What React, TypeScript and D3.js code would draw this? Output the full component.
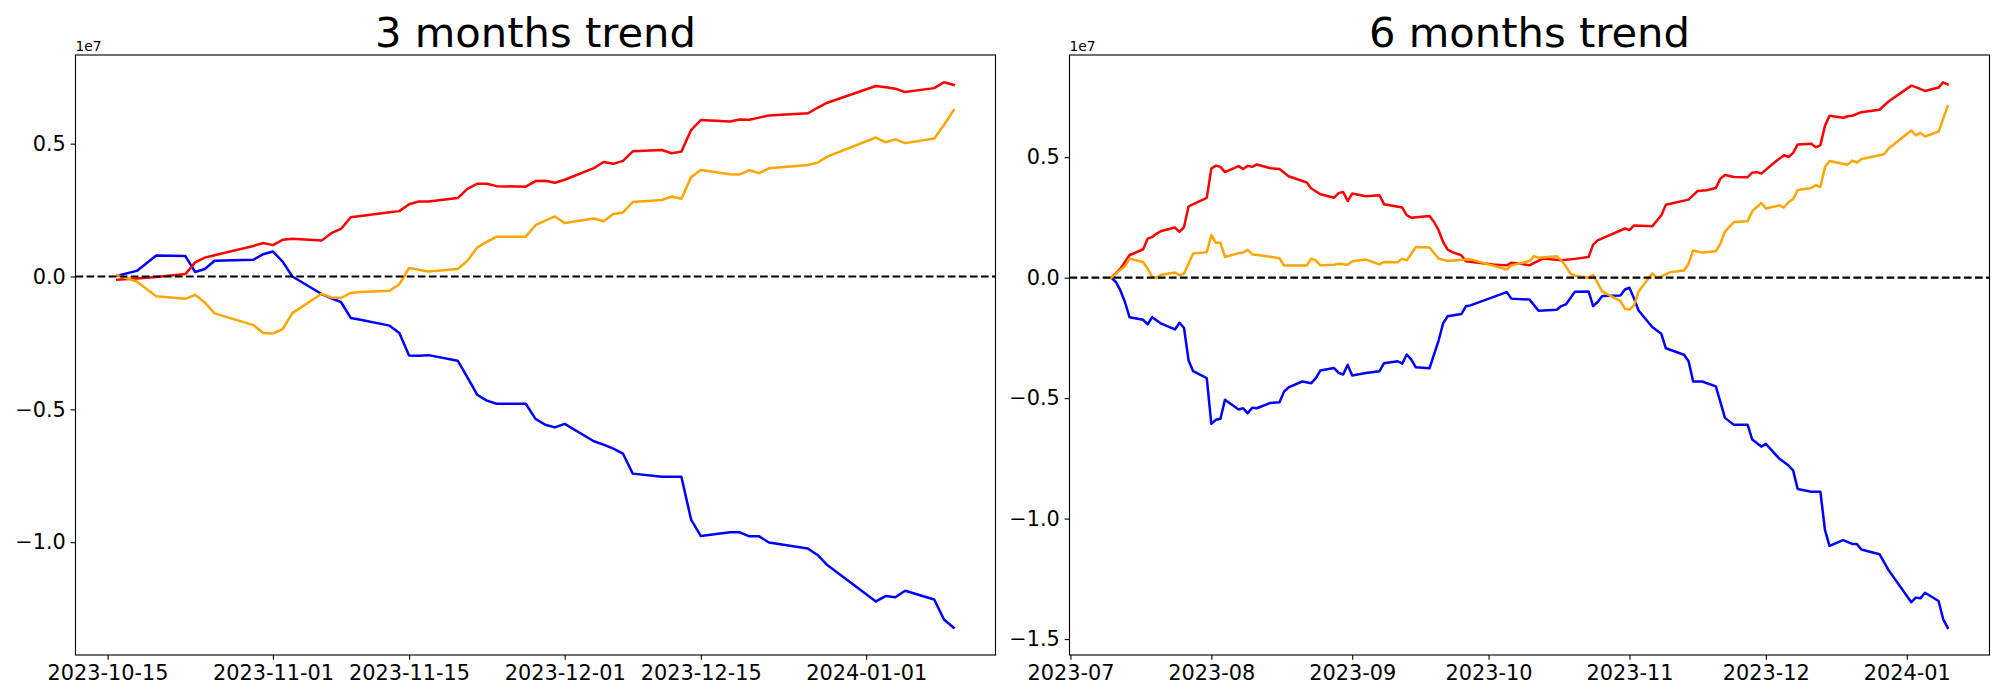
import { useEffect, useRef } from 'react';
import * as d3 from 'd3';

type Pt = [string, number];

// values are in units of 1e7 (offset text drawn above each axis)
const threeRed: Pt[] = [
  ['2023-10-16', -0.012], ['2023-10-18', -0.008], ['2023-10-20', -0.002], ['2023-10-23', 0.009],
  ['2023-10-24', 0.053], ['2023-10-25', 0.071], ['2023-10-26', 0.080], ['2023-10-30', 0.115],
  ['2023-10-31', 0.126], ['2023-11-01', 0.118], ['2023-11-02', 0.138], ['2023-11-03', 0.142],
  ['2023-11-06', 0.135], ['2023-11-07', 0.163], ['2023-11-08', 0.179], ['2023-11-09', 0.223],
  ['2023-11-10', 0.228], ['2023-11-13', 0.242], ['2023-11-14', 0.246], ['2023-11-15', 0.272],
  ['2023-11-16', 0.282], ['2023-11-17', 0.282], ['2023-11-20', 0.295], ['2023-11-21', 0.330],
  ['2023-11-22', 0.349], ['2023-11-23', 0.349], ['2023-11-24', 0.340], ['2023-11-27', 0.338],
  ['2023-11-28', 0.359], ['2023-11-29', 0.360], ['2023-11-30', 0.353], ['2023-12-01', 0.364],
  ['2023-12-04', 0.408], ['2023-12-05', 0.431], ['2023-12-06', 0.424], ['2023-12-07', 0.435],
  ['2023-12-08', 0.471], ['2023-12-11', 0.476], ['2023-12-12', 0.464], ['2023-12-13', 0.470],
  ['2023-12-14', 0.551], ['2023-12-15', 0.589], ['2023-12-18', 0.583], ['2023-12-19', 0.591],
  ['2023-12-20', 0.590], ['2023-12-21', 0.598], ['2023-12-22', 0.606], ['2023-12-26', 0.614],
  ['2023-12-27', 0.635], ['2023-12-28', 0.654], ['2024-01-02', 0.717], ['2024-01-03', 0.712],
  ['2024-01-04', 0.707], ['2024-01-05', 0.694], ['2024-01-08', 0.709], ['2024-01-09', 0.731],
  ['2024-01-10', 0.721],
];

const threeBlue: Pt[] = [
  ['2023-10-16', 0.003], ['2023-10-18', 0.021], ['2023-10-20', 0.079], ['2023-10-23', 0.077],
  ['2023-10-24', 0.017], ['2023-10-25', 0.028], ['2023-10-26', 0.059], ['2023-10-30', 0.063],
  ['2023-10-31', 0.084], ['2023-11-01', 0.094], ['2023-11-02', 0.056], ['2023-11-03', 0.000],
  ['2023-11-06', -0.066], ['2023-11-07', -0.082], ['2023-11-08', -0.096], ['2023-11-09', -0.156],
  ['2023-11-10', -0.163], ['2023-11-13', -0.185], ['2023-11-14', -0.213], ['2023-11-15', -0.297],
  ['2023-11-16', -0.298], ['2023-11-17', -0.296], ['2023-11-20', -0.317], ['2023-11-21', -0.380],
  ['2023-11-22', -0.445], ['2023-11-23', -0.467], ['2023-11-24', -0.479], ['2023-11-27', -0.479],
  ['2023-11-28', -0.536], ['2023-11-29', -0.558], ['2023-11-30', -0.568], ['2023-12-01', -0.555],
  ['2023-12-04', -0.620], ['2023-12-05', -0.633], ['2023-12-06', -0.648], ['2023-12-07', -0.667],
  ['2023-12-08', -0.742], ['2023-12-11', -0.754], ['2023-12-12', -0.754], ['2023-12-13', -0.754],
  ['2023-12-14', -0.915], ['2023-12-15', -0.977], ['2023-12-18', -0.963], ['2023-12-19', -0.963],
  ['2023-12-20', -0.978], ['2023-12-21', -0.978], ['2023-12-22', -1.001], ['2023-12-26', -1.024],
  ['2023-12-27', -1.048], ['2023-12-28', -1.086], ['2024-01-02', -1.223], ['2024-01-03', -1.203],
  ['2024-01-04', -1.207], ['2024-01-05', -1.183], ['2024-01-08', -1.216], ['2024-01-09', -1.291],
  ['2024-01-10', -1.322],
];

const threeOrange: Pt[] = [
  ['2023-10-16', 0.005], ['2023-10-18', -0.019], ['2023-10-20', -0.074], ['2023-10-23', -0.084],
  ['2023-10-24', -0.069], ['2023-10-25', -0.098], ['2023-10-26', -0.139], ['2023-10-30', -0.183],
  ['2023-10-31', -0.213], ['2023-11-01', -0.215], ['2023-11-02', -0.198], ['2023-11-03', -0.138],
  ['2023-11-06', -0.065], ['2023-11-07', -0.079], ['2023-11-08', -0.081], ['2023-11-09', -0.062],
  ['2023-11-10', -0.058], ['2023-11-13', -0.054], ['2023-11-14', -0.029], ['2023-11-15', 0.032],
  ['2023-11-16', 0.025], ['2023-11-17', 0.019], ['2023-11-20', 0.028], ['2023-11-21', 0.059],
  ['2023-11-22', 0.109], ['2023-11-23', 0.130], ['2023-11-24', 0.150], ['2023-11-27', 0.150],
  ['2023-11-28', 0.193], ['2023-11-29', 0.210], ['2023-11-30', 0.226], ['2023-12-01', 0.201],
  ['2023-12-04', 0.218], ['2023-12-05', 0.208], ['2023-12-06', 0.235], ['2023-12-07', 0.241],
  ['2023-12-08', 0.280], ['2023-12-11', 0.288], ['2023-12-12', 0.301], ['2023-12-13', 0.292],
  ['2023-12-14', 0.374], ['2023-12-15', 0.401], ['2023-12-18', 0.385], ['2023-12-19', 0.384],
  ['2023-12-20', 0.400], ['2023-12-21', 0.389], ['2023-12-22', 0.407], ['2023-12-26', 0.420],
  ['2023-12-27', 0.428], ['2023-12-28', 0.451], ['2024-01-02', 0.523], ['2024-01-03', 0.505],
  ['2024-01-04', 0.516], ['2024-01-05', 0.502], ['2024-01-08', 0.519], ['2024-01-09', 0.570],
  ['2024-01-10', 0.626],
];

const sixRed: Pt[] = [
  ['2023-07-10', 0.000], ['2023-07-12', 0.037], ['2023-07-14', 0.093], ['2023-07-17', 0.118],
  ['2023-07-18', 0.162], ['2023-07-19', 0.169], ['2023-07-20', 0.183], ['2023-07-21', 0.194],
  ['2023-07-24', 0.208], ['2023-07-25', 0.190], ['2023-07-26', 0.210], ['2023-07-27', 0.296],
  ['2023-07-31', 0.331], ['2023-08-01', 0.453], ['2023-08-02', 0.465], ['2023-08-03', 0.460],
  ['2023-08-04', 0.438], ['2023-08-07', 0.463], ['2023-08-08', 0.451], ['2023-08-09', 0.464],
  ['2023-08-10', 0.460], ['2023-08-11', 0.470], ['2023-08-14', 0.454], ['2023-08-16', 0.451],
  ['2023-08-18', 0.421], ['2023-08-22', 0.395], ['2023-08-23', 0.370], ['2023-08-25', 0.346],
  ['2023-08-28', 0.332], ['2023-08-29', 0.351], ['2023-08-30', 0.356], ['2023-08-31', 0.318],
  ['2023-09-01', 0.349], ['2023-09-04', 0.338], ['2023-09-07', 0.342], ['2023-09-08', 0.305],
  ['2023-09-12', 0.291], ['2023-09-13', 0.259], ['2023-09-14', 0.249], ['2023-09-18', 0.256],
  ['2023-09-19', 0.231], ['2023-09-20', 0.197], ['2023-09-21', 0.148], ['2023-09-22', 0.116],
  ['2023-09-23', 0.106], ['2023-09-25', 0.093], ['2023-09-26', 0.068], ['2023-10-02', 0.055],
  ['2023-10-05', 0.051], ['2023-10-06', 0.062], ['2023-10-08', 0.058], ['2023-10-10', 0.051],
  ['2023-10-11', 0.061], ['2023-10-13', 0.079], ['2023-10-17', 0.072], ['2023-10-20', 0.078],
  ['2023-10-23', 0.086], ['2023-10-24', 0.137], ['2023-10-25', 0.155], ['2023-10-31', 0.204],
  ['2023-11-01', 0.197], ['2023-11-02', 0.217], ['2023-11-06', 0.213], ['2023-11-08', 0.259],
  ['2023-11-09', 0.303], ['2023-11-14', 0.324], ['2023-11-16', 0.360], ['2023-11-18', 0.363],
  ['2023-11-20', 0.372], ['2023-11-21', 0.411], ['2023-11-22', 0.426], ['2023-11-24', 0.418],
  ['2023-11-27', 0.417], ['2023-11-28', 0.436], ['2023-11-29', 0.438], ['2023-11-30', 0.432],
  ['2023-12-03', 0.480], ['2023-12-05', 0.508], ['2023-12-06', 0.501], ['2023-12-07', 0.518],
  ['2023-12-08', 0.553], ['2023-12-11', 0.556], ['2023-12-12', 0.541], ['2023-12-13', 0.550],
  ['2023-12-14', 0.630], ['2023-12-15', 0.672], ['2023-12-18', 0.664], ['2023-12-19', 0.670],
  ['2023-12-20', 0.672], ['2023-12-22', 0.687], ['2023-12-26', 0.697], ['2023-12-28', 0.731],
  ['2024-01-02', 0.797], ['2024-01-03', 0.791], ['2024-01-05', 0.775], ['2024-01-08', 0.789],
  ['2024-01-09', 0.811], ['2024-01-10', 0.802],
];

const sixBlue: Pt[] = [
  ['2023-07-10', 0.000], ['2023-07-11', -0.018], ['2023-07-12', -0.053], ['2023-07-13', -0.101],
  ['2023-07-14', -0.164], ['2023-07-17', -0.175], ['2023-07-18', -0.194], ['2023-07-19', -0.164],
  ['2023-07-21', -0.191], ['2023-07-24', -0.215], ['2023-07-25', -0.187], ['2023-07-26', -0.209],
  ['2023-07-27', -0.344], ['2023-07-28', -0.388], ['2023-07-31', -0.417], ['2023-08-01', -0.607],
  ['2023-08-02', -0.590], ['2023-08-03', -0.586], ['2023-08-04', -0.507], ['2023-08-07', -0.547],
  ['2023-08-08', -0.542], ['2023-08-09', -0.563], ['2023-08-10', -0.540], ['2023-08-11', -0.542],
  ['2023-08-14', -0.520], ['2023-08-16', -0.517], ['2023-08-17', -0.473], ['2023-08-18', -0.455],
  ['2023-08-21', -0.431], ['2023-08-23', -0.438], ['2023-08-24', -0.417], ['2023-08-25', -0.385],
  ['2023-08-28', -0.375], ['2023-08-29', -0.395], ['2023-08-30', -0.402], ['2023-08-31', -0.362],
  ['2023-09-01', -0.406], ['2023-09-04', -0.396], ['2023-09-07', -0.388], ['2023-09-08', -0.355],
  ['2023-09-11', -0.347], ['2023-09-12', -0.357], ['2023-09-13', -0.319], ['2023-09-14', -0.340],
  ['2023-09-15', -0.372], ['2023-09-18', -0.376], ['2023-09-20', -0.261], ['2023-09-21', -0.189],
  ['2023-09-22', -0.160], ['2023-09-25', -0.151], ['2023-09-26', -0.119], ['2023-09-27', -0.115],
  ['2023-10-05', -0.060], ['2023-10-06', -0.087], ['2023-10-10', -0.091], ['2023-10-12', -0.137],
  ['2023-10-16', -0.133], ['2023-10-17', -0.118], ['2023-10-18', -0.111], ['2023-10-20', -0.058],
  ['2023-10-23', -0.057], ['2023-10-24', -0.118], ['2023-10-25', -0.101], ['2023-10-26', -0.076],
  ['2023-10-30', -0.074], ['2023-10-31', -0.049], ['2023-11-01', -0.042], ['2023-11-02', -0.087],
  ['2023-11-03', -0.136], ['2023-11-06', -0.205], ['2023-11-08', -0.233], ['2023-11-09', -0.293],
  ['2023-11-13', -0.320], ['2023-11-14', -0.347], ['2023-11-15', -0.431], ['2023-11-17', -0.431],
  ['2023-11-20', -0.451], ['2023-11-22', -0.582], ['2023-11-24', -0.611], ['2023-11-27', -0.611],
  ['2023-11-28', -0.672], ['2023-11-30', -0.701], ['2023-12-01', -0.690], ['2023-12-04', -0.752],
  ['2023-12-06', -0.780], ['2023-12-07', -0.800], ['2023-12-08', -0.877], ['2023-12-11', -0.889],
  ['2023-12-13', -0.889], ['2023-12-14', -1.047], ['2023-12-15', -1.113], ['2023-12-18', -1.089],
  ['2023-12-20', -1.105], ['2023-12-21', -1.105], ['2023-12-22', -1.128], ['2023-12-26', -1.148],
  ['2023-12-28', -1.214], ['2024-01-02', -1.347], ['2024-01-03', -1.328], ['2024-01-04', -1.331],
  ['2024-01-05', -1.308], ['2024-01-08', -1.342], ['2024-01-09', -1.417], ['2024-01-10', -1.453],
];

const sixOrange: Pt[] = [
  ['2023-07-10', 0.000], ['2023-07-11', 0.017], ['2023-07-13', 0.047], ['2023-07-14', 0.079],
  ['2023-07-17', 0.065], ['2023-07-18', 0.037], ['2023-07-19', 0.003], ['2023-07-20', 0.000],
  ['2023-07-21', 0.012], ['2023-07-24', 0.021], ['2023-07-25', 0.010], ['2023-07-26', 0.017],
  ['2023-07-28', 0.100], ['2023-07-31', 0.106], ['2023-08-01', 0.176], ['2023-08-02', 0.145],
  ['2023-08-03', 0.145], ['2023-08-04', 0.086], ['2023-08-07', 0.102], ['2023-08-08', 0.104],
  ['2023-08-09', 0.116], ['2023-08-10', 0.097], ['2023-08-16', 0.081], ['2023-08-17', 0.050],
  ['2023-08-22', 0.050], ['2023-08-23', 0.079], ['2023-08-24', 0.071], ['2023-08-25', 0.051],
  ['2023-08-28', 0.054], ['2023-08-29', 0.058], ['2023-08-31', 0.054], ['2023-09-01', 0.068],
  ['2023-09-04', 0.075], ['2023-09-07', 0.055], ['2023-09-08', 0.065], ['2023-09-11', 0.064],
  ['2023-09-12', 0.079], ['2023-09-13', 0.072], ['2023-09-15', 0.127], ['2023-09-18', 0.125],
  ['2023-09-20', 0.079], ['2023-09-22', 0.069], ['2023-09-26', 0.075], ['2023-09-27', 0.076],
  ['2023-10-05', 0.034], ['2023-10-06', 0.051], ['2023-10-10', 0.069], ['2023-10-11', 0.089],
  ['2023-10-12', 0.083], ['2023-10-16', 0.089], ['2023-10-17', 0.072], ['2023-10-18', 0.047],
  ['2023-10-19', 0.017], ['2023-10-20', 0.008], ['2023-10-23', 0.000], ['2023-10-24', 0.012],
  ['2023-10-26', -0.057], ['2023-10-30', -0.097], ['2023-10-31', -0.129], ['2023-11-01', -0.132],
  ['2023-11-02', -0.115], ['2023-11-03', -0.057], ['2023-11-06', 0.017], ['2023-11-07', 0.000],
  ['2023-11-08', 0.005], ['2023-11-10', 0.023], ['2023-11-13', 0.030], ['2023-11-14', 0.058],
  ['2023-11-15', 0.113], ['2023-11-17', 0.104], ['2023-11-20', 0.110], ['2023-11-21', 0.141],
  ['2023-11-22', 0.192], ['2023-11-24', 0.231], ['2023-11-27', 0.234], ['2023-11-28', 0.276],
  ['2023-11-30', 0.310], ['2023-12-01', 0.287], ['2023-12-04', 0.300], ['2023-12-05', 0.291],
  ['2023-12-06', 0.314], ['2023-12-07', 0.326], ['2023-12-08', 0.364], ['2023-12-11', 0.372],
  ['2023-12-12', 0.384], ['2023-12-13', 0.376], ['2023-12-14', 0.458], ['2023-12-15', 0.484],
  ['2023-12-19', 0.469], ['2023-12-20', 0.486], ['2023-12-21', 0.478], ['2023-12-22', 0.492],
  ['2023-12-27', 0.512], ['2023-12-28', 0.536], ['2024-01-02', 0.611], ['2024-01-03', 0.591],
  ['2024-01-04', 0.601], ['2024-01-05', 0.586], ['2024-01-08', 0.606], ['2024-01-10', 0.712],
];

const threeTicks = ['2023-10-15', '2023-11-01', '2023-11-15', '2023-12-01', '2023-12-15', '2024-01-01'];
const sixTicks = ['2023-07', '2023-08', '2023-09', '2023-10', '2023-11', '2023-12', '2024-01'];

const parseDay = d3.timeParse('%Y-%m-%d');
const parseMonth = d3.timeParse('%Y-%m');

const FONT = '"DejaVu Sans", sans-serif';
const PT = 100 / 72; // matplotlib points -> px at dpi 100

interface Series { data: Pt[]; color: string }

interface PanelProps {
  title: string;
  series: Series[];
  ticks: string[];
  parseTick: (s: string) => Date | null;
  left: number;
  top: number;
  width: number;
  height: number;
}

function TrendPanel({ title, series, ticks, parseTick, left, top, width, height }: PanelProps) {
  const gRef = useRef<SVGGElement>(null);

  useEffect(() => {
    if (!gRef.current) return;
    const g = d3.select(gRef.current);
    g.selectAll('*').remove();

    const all = series.flatMap(s => s.data.map(([d, v]) => ({ t: parseDay(d)!, v })));
    const [t0, t1] = d3.extent(all, p => +p.t) as [number, number];
    const tPad = (t1 - t0) * 0.05;
    const x = d3.scaleTime()
      .domain([new Date(t0 - tPad), new Date(t1 + tPad)])
      .range([0, width]);

    const [v0, v1] = d3.extent(all, p => p.v) as [number, number];
    const vPad = (v1 - v0) * 0.05;
    const y = d3.scaleLinear().domain([v0 - vPad, v1 + vPad]).range([height, 0]);

    const tickLen = 3.5 * PT;
    const tickPad = 3.5 * PT;

    // x axis
    const xAxis = d3.axisBottom(x)
      .tickValues(ticks.map(t => parseTick(t)!))
      .tickFormat((_d, i) => ticks[i])
      .tickSize(tickLen)
      .tickPadding(tickPad)
      .tickSizeOuter(0);
    const xg = g.append('g').attr('transform', `translate(0,${height})`).call(xAxis);
    xg.select('.domain').remove();
    xg.selectAll('line').attr('stroke', '#000').attr('stroke-width', 0.8 * PT);
    xg.selectAll('text').attr('font-family', FONT).attr('font-size', 15 * PT).attr('fill', '#000');

    // y axis
    const yAxis = d3.axisLeft(y)
      .ticks(5)
      .tickFormat(d3.format('.1f'))
      .tickSize(tickLen)
      .tickPadding(tickPad)
      .tickSizeOuter(0);
    const yg = g.append('g').call(yAxis);
    yg.select('.domain').remove();
    yg.selectAll('line').attr('stroke', '#000').attr('stroke-width', 0.8 * PT);
    yg.selectAll('text').attr('font-family', FONT).attr('font-size', 15 * PT).attr('fill', '#000');

    // lines
    const line = d3.line<Pt>()
      .x(d => x(parseDay(d[0])!))
      .y(d => y(d[1]));

    series.forEach(s => {
      g.append('path')
        .datum(s.data)
        .attr('d', line)
        .attr('fill', 'none')
        .attr('stroke', s.color)
        .attr('stroke-width', 1.8 * PT)
        .attr('stroke-linejoin', 'round')
        .attr('stroke-linecap', 'square');
    });

    // zero line
    g.append('line')
      .attr('x1', 0)
      .attr('x2', width)
      .attr('y1', y(0))
      .attr('y2', y(0))
      .attr('stroke', '#000')
      .attr('stroke-width', 1.5 * PT)
      .attr('stroke-dasharray', `${3.7 * 1.5 * PT},${1.6 * 1.5 * PT}`);

    // spines
    g.append('rect')
      .attr('width', width)
      .attr('height', height)
      .attr('fill', 'none')
      .attr('stroke', '#000')
      .attr('stroke-width', 0.8 * PT);

    // offset text
    g.append('text')
      .attr('x', 0)
      .attr('y', -4)
      .attr('font-family', FONT)
      .attr('font-size', 10 * PT)
      .text('1e7');

    // title
    g.append('text')
      .attr('x', width / 2)
      .attr('y', -6 * PT)
      .attr('text-anchor', 'middle')
      .attr('font-family', FONT)
      .attr('font-size', 30 * PT)
      .text(title);
  }, [title, series, ticks, parseTick, width, height]);

  return <g ref={gRef} transform={`translate(${left},${top})`} />;
}

export default function App() {
  useEffect(() => {
    document.body.style.margin = '0';
  }, []);

  const threeSeries: Series[] = [
    { data: threeBlue, color: 'blue' },
    { data: threeRed, color: 'red' },
    { data: threeOrange, color: 'orange' },
  ];
  const sixSeries: Series[] = [
    { data: sixBlue, color: 'blue' },
    { data: sixRed, color: 'red' },
    { data: sixOrange, color: 'orange' },
  ];

  return (
    <svg width={2000} height={700} style={{ display: 'block', background: '#fff' }}>
      <TrendPanel
        title="3 months trend"
        series={threeSeries}
        ticks={threeTicks}
        parseTick={parseDay}
        left={75.5}
        top={55}
        width={920}
        height={600}
      />
      <TrendPanel
        title="6 months trend"
        series={sixSeries}
        ticks={sixTicks}
        parseTick={parseMonth}
        left={1069.5}
        top={55}
        width={920}
        height={600}
      />
    </svg>
  );
}
